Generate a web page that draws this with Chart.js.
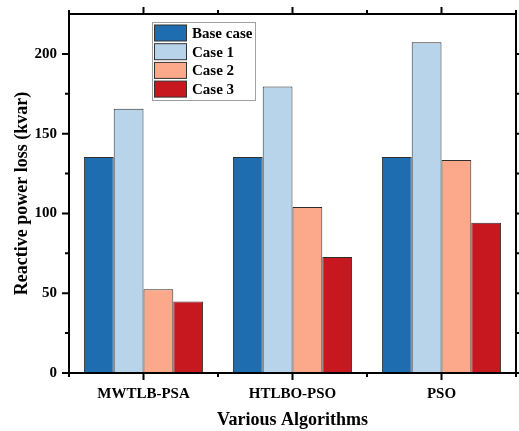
<!DOCTYPE html>
<html>
<head>
<meta charset="utf-8">
<script src="https://cdn.jsdelivr.net/npm/chart.js@4"></script>
<style>
  html, body { margin: 0; padding: 0; background: #ffffff; }
  #wrap { width: 519px; height: 431px; }
</style>
</head>
<body>
<div id="wrap"><canvas id="c" width="519" height="431"></canvas></div>
<script>
// Reactive power loss (kvar) for each algorithm and case
const algorithms = ['MWTLB-PSA', 'HTLBO-PSO', 'PSO'];
const seriesNames = ['Base case', 'Case 1', 'Case 2', 'Case 3'];
const baseCase = [135.4, 135.4, 135.4];
const case1 = [165.6, 179.6, 207.3];
const case2 = [52.5, 104.1, 133.5];
const case3 = [44.8, 72.7, 94.1];
const yTickLabels = [0, 50, 100, 150, 200];
const yMinorTicks = [25, 75, 125, 175];

const seriesColors = ['#1f6db1', '#b7d4ea', '#fca98b', '#c7171f'];
const FONT = '"Liberation Serif", "Times New Roman", serif';

const seriesValues = [baseCase, case1, case2, case3];

// Closed black frame with outward major/minor ticks on all four sides
const frameTicks = {
  id: 'frameTicks',
  afterDraw(chart) {
    const ctx = chart.ctx;
    const a = chart.chartArea;
    const xs = chart.scales.x, ys = chart.scales.y;
    ctx.save();
    ctx.strokeStyle = '#000';
    ctx.lineWidth = 2;
    ctx.beginPath();
    ctx.rect(a.left, a.top, a.right - a.left, a.bottom - a.top);
    ctx.stroke();

    const major = 7, minor = 4;
    ctx.beginPath();
    yTickLabels.forEach(v => {
      const y = ys.getPixelForValue(v);
      ctx.moveTo(a.left, y); ctx.lineTo(a.left - major, y);
      ctx.moveTo(a.right, y); ctx.lineTo(a.right + major, y);
    });
    yMinorTicks.forEach(v => {
      const y = ys.getPixelForValue(v);
      ctx.moveTo(a.left, y); ctx.lineTo(a.left - minor, y);
      ctx.moveTo(a.right, y); ctx.lineTo(a.right + minor, y);
    });
    const step = xs.getPixelForValue(1) - xs.getPixelForValue(0);
    algorithms.forEach((_, i) => {
      const x = xs.getPixelForValue(i);
      ctx.moveTo(x, a.bottom); ctx.lineTo(x, a.bottom + major);
      ctx.moveTo(x, a.top); ctx.lineTo(x, a.top - major);
    });
    for (let i = 0; i <= algorithms.length; i++) {
      const x = xs.getPixelForValue(0) - step / 2 + i * step;
      ctx.moveTo(x, a.bottom); ctx.lineTo(x, a.bottom + minor);
      ctx.moveTo(x, a.top); ctx.lineTo(x, a.top - minor);
    }
    ctx.stroke();
    ctx.restore();
  }
};

// Boxed legend placed inside the plot
const boxLegend = {
  id: 'boxLegend',
  afterDraw(chart, args, opts) {
    const ctx = chart.ctx;
    ctx.save();
    ctx.strokeStyle = '#a0a0a0';
    ctx.lineWidth = 1;
    ctx.strokeRect(opts.x + 0.5, opts.y + 0.5, opts.w, opts.h);
    ctx.font = 'bold 15px ' + FONT;
    ctx.textBaseline = 'middle';
    chart.data.datasets.forEach((ds, i) => {
      const sy = opts.y + 3 + i * opts.row;
      ctx.fillStyle = ds.backgroundColor;
      ctx.fillRect(opts.x + 2.5, sy, opts.sw, opts.sh);
      ctx.strokeStyle = '#333';
      ctx.strokeRect(opts.x + 2.5, sy, opts.sw, opts.sh);
      ctx.fillStyle = '#000';
      ctx.fillText(ds.label, opts.x + 40, sy + opts.sh / 2 + 1);
    });
    ctx.restore();
  }
};

new Chart(document.getElementById('c'), {
  type: 'bar',
  data: {
    labels: algorithms,
    datasets: seriesNames.map((name, i) => ({
      label: name,
      data: seriesValues[i],
      backgroundColor: seriesColors[i],
      borderColor: '#2e2e2e',
      borderWidth: 1,
      barPercentage: 1.0,
      categoryPercentage: 0.8
    }))
  },
  options: {
    responsive: false,
    animation: false,
    devicePixelRatio: 1,
    layout: { padding: { top: 14, right: 3, left: 0, bottom: 0 } },
    plugins: {
      legend: { display: false },
      tooltip: { enabled: false },
      boxLegend: { x: 152, y: 22, w: 103, h: 78, row: 18.7, sw: 32, sh: 16 }
    },
    scales: {
      x: {
        offset: true,
        grid: { display: false, drawTicks: false },
        border: { display: false },
        ticks: { color: '#000', font: { family: FONT, size: 15, weight: 'bold' }, padding: 12 },
        title: {
          display: true, text: 'Various Algorithms', color: '#000',
          font: { family: FONT, size: 18, weight: 'bold' },
          padding: { top: 0, bottom: 0 }
        },
        afterFit(scale) {
          scale.height = 58;
          scale.paddingLeft = 0; scale.paddingRight = 0;
        }
      },
      y: {
        min: 0, max: 225,
        grid: { display: false, drawTicks: false },
        border: { display: false },
        ticks: {
          stepSize: 50, color: '#000', padding: 12,
          font: { family: FONT, size: 15, weight: 'bold' }
        },
        afterBuildTicks(scale) {
          scale.ticks = yTickLabels.map(v => ({ value: v }));
        },
        title: {
          display: true, text: 'Reactive power loss (kvar)', color: '#000',
          font: { family: FONT, size: 18, weight: 'bold' },
          padding: { top: 12, bottom: 0 }
        },
        afterFit(scale) {
          scale.width = 69;
          scale.paddingTop = 0; scale.paddingBottom = 0;
        }
      }
    }
  },
  plugins: [frameTicks, boxLegend]
});
</script>
</body>
</html>
